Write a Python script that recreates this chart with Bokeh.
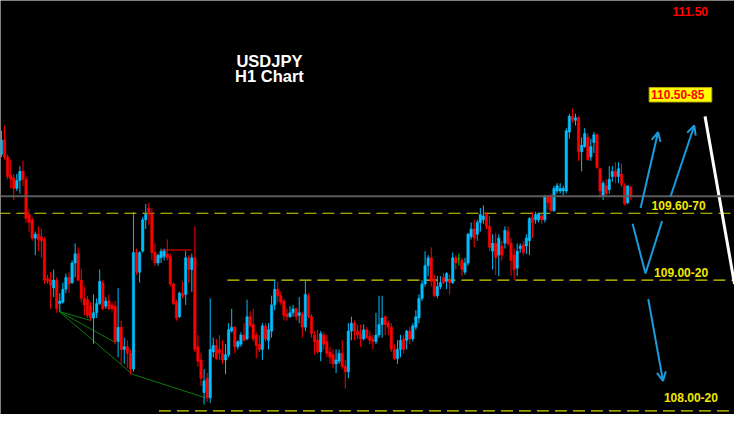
from bokeh.plotting import figure
from bokeh.models import Range1d, Span, Arrow, OpenHead
from bokeh.core.properties import value
from bokeh.embed import file_html
from bokeh.resources import INLINE

# ---------------- data (USDJPY, H1 candles) ----------------
opens = [110.05, 110.16, 110.03, 109.89, 109.87, 109.79, 109.85, 109.92, 109.86, 109.59,
         109.55, 109.41, 109.44, 109.42, 109.40, 109.10, 109.09, 109.03, 109.09, 108.91,
         108.92, 109.02, 109.11, 109.07, 109.22, 109.29, 109.09, 108.95, 108.94, 108.89,
         108.80, 108.84, 108.91, 109.07, 108.89, 108.93, 108.90, 108.89, 108.62, 108.73,
         108.56, 108.58, 108.53, 108.41, 109.30, 109.15, 109.31, 109.55, 109.64, 109.59,
         109.30, 109.22, 109.26, 109.27, 109.29, 109.27, 109.06, 108.92, 108.81, 108.99,
         108.98, 109.26, 109.17, 109.26, 108.58, 108.48, 108.23, 108.34, 108.19, 108.54,
         108.59, 108.56, 108.53, 108.48, 108.52, 108.70, 108.73, 108.58, 108.60, 108.67,
         108.64, 108.81, 108.75, 108.67, 108.60, 108.56, 108.74, 108.63, 108.70, 108.90,
         109.02, 108.97, 108.93, 108.83, 108.81, 108.84, 108.87, 108.82, 108.83, 108.73,
         108.97, 108.81, 108.67, 108.63, 108.54, 108.67, 108.62, 108.54, 108.52, 108.45,
         108.47, 108.53, 108.43, 108.39, 108.70, 108.76, 108.70, 108.68, 108.64, 108.71,
         108.66, 108.64, 108.62, 108.67, 108.75, 108.81, 108.76, 108.73, 108.56, 108.49,
         108.56, 108.64, 108.63, 108.70, 108.64, 108.73, 108.80, 108.95, 109.06, 109.20,
         109.26, 109.09, 108.97, 109.04, 109.11, 109.08, 109.09, 109.07, 109.26, 109.25,
         109.24, 109.15, 109.22, 109.42, 109.48, 109.44, 109.53, 109.55, 109.59, 109.50,
         109.31, 109.37, 109.28, 109.35, 109.37, 109.46, 109.37, 109.28, 109.18, 109.33,
         109.36, 109.35, 109.39, 109.57, 109.55, 109.55, 109.58, 109.55, 109.73, 109.72,
         109.62, 109.77, 109.77, 109.77, 109.77, 110.22, 110.34, 110.31, 110.33, 110.07,
         110.11, 110.18, 110.03, 110.14, 110.20, 109.94, 109.73, 109.81, 109.78, 109.88,
         109.92, 109.88, 109.90, 109.81, 109.68, 109.80]
highs = [110.23, 110.27, 110.05, 110.01, 109.90, 109.90, 109.96, 110.00, 109.88, 109.63,
         109.57, 109.46, 109.50, 109.48, 109.42, 109.13, 109.15, 109.17, 109.11, 108.99,
         109.07, 109.14, 109.15, 109.24, 109.37, 109.34, 109.17, 109.04, 108.97, 108.92,
         108.98, 108.95, 109.17, 109.09, 108.96, 108.98, 108.92, 108.93, 109.03, 108.78,
         108.65, 108.63, 108.56, 109.61, 109.33, 109.31, 109.57, 109.67, 109.68, 109.64,
         109.37, 109.29, 109.33, 109.33, 109.40, 109.29, 109.07, 108.94, 109.00, 109.08,
         109.31, 109.28, 109.29, 109.50, 108.67, 108.53, 108.41, 108.38, 108.95, 108.65,
         108.64, 108.67, 108.63, 108.60, 108.76, 108.87, 108.74, 108.63, 108.69, 108.76,
         108.94, 108.85, 108.87, 108.69, 108.67, 108.76, 108.76, 108.76, 108.97, 109.09,
         109.08, 109.00, 108.95, 108.87, 108.89, 108.90, 108.88, 108.96, 108.85, 109.09,
         108.99, 108.83, 108.70, 108.71, 108.70, 108.69, 108.67, 108.58, 108.56, 108.56,
         108.56, 108.63, 108.48, 108.76, 108.81, 108.78, 108.75, 108.75, 108.75, 108.73,
         108.70, 108.67, 108.84, 108.97, 108.97, 108.82, 108.78, 108.76, 108.60, 108.63,
         108.67, 108.67, 108.71, 108.73, 108.76, 108.86, 108.98, 109.09, 109.31, 109.28,
         109.34, 109.13, 109.12, 109.12, 109.14, 109.15, 109.13, 109.30, 109.28, 109.29,
         109.26, 109.26, 109.45, 109.53, 109.55, 109.55, 109.64, 109.66, 109.60, 109.58,
         109.44, 109.45, 109.44, 109.39, 109.50, 109.50, 109.41, 109.33, 109.37, 109.37,
         109.39, 109.44, 109.57, 109.61, 109.61, 109.60, 109.60, 109.74, 109.74, 109.75,
         109.81, 109.83, 109.83, 109.81, 110.25, 110.36, 110.40, 110.36, 110.34, 110.18,
         110.25, 110.21, 110.17, 110.22, 110.21, 109.95, 109.85, 109.86, 109.96, 109.96,
         109.99, 109.99, 109.98, 109.83, 109.81, 109.81]
lows = [110.03, 110.01, 109.86, 109.79, 109.70, 109.77, 109.75, 109.81, 109.53, 109.46,
        109.39, 109.28, 109.31, 109.26, 109.06, 109.06, 108.87, 108.96, 108.84, 108.85,
        108.91, 108.99, 108.99, 109.06, 109.11, 109.08, 108.92, 108.82, 108.80, 108.78,
        108.60, 108.80, 108.90, 108.86, 108.87, 108.86, 108.85, 108.60, 108.50, 108.45,
        108.45, 108.42, 108.37, 108.39, 109.13, 109.07, 109.30, 109.48, 109.51, 109.24,
        109.20, 109.20, 109.22, 109.24, 109.24, 109.04, 108.90, 108.78, 108.80, 108.95,
        108.90, 109.07, 109.00, 108.54, 108.43, 108.28, 108.14, 108.16, 108.15, 108.50,
        108.48, 108.48, 108.45, 108.37, 108.50, 108.69, 108.53, 108.56, 108.58, 108.62,
        108.63, 108.73, 108.62, 108.49, 108.54, 108.48, 108.62, 108.56, 108.65, 108.86,
        108.92, 108.90, 108.78, 108.78, 108.80, 108.81, 108.78, 108.76, 108.65, 108.70,
        108.80, 108.65, 108.52, 108.53, 108.47, 108.56, 108.50, 108.45, 108.42, 108.38,
        108.45, 108.41, 108.26, 108.34, 108.63, 108.63, 108.64, 108.58, 108.63, 108.64,
        108.60, 108.56, 108.60, 108.65, 108.65, 108.67, 108.67, 108.54, 108.48, 108.45,
        108.50, 108.53, 108.56, 108.60, 108.62, 108.71, 108.76, 108.93, 109.04, 109.12,
        109.04, 108.96, 108.95, 109.02, 109.06, 109.02, 108.98, 109.06, 109.17, 109.20,
        109.12, 109.13, 109.20, 109.40, 109.34, 109.39, 109.46, 109.52, 109.48, 109.31,
        109.17, 109.13, 109.12, 109.24, 109.33, 109.35, 109.12, 109.09, 109.12, 109.30,
        109.28, 109.29, 109.28, 109.41, 109.52, 109.53, 109.52, 109.53, 109.63, 109.61,
        109.61, 109.75, 109.75, 109.74, 109.75, 110.17, 110.29, 110.27, 110.00, 109.92,
        110.10, 110.00, 110.00, 110.06, 109.94, 109.72, 109.70, 109.73, 109.75, 109.84,
        109.83, 109.83, 109.80, 109.66, 109.67, 109.70]
closes = [110.16, 110.03, 109.88, 109.86, 109.79, 109.85, 109.92, 109.86, 109.56, 109.53,
          109.41, 109.44, 109.40, 109.39, 109.09, 109.08, 109.05, 109.09, 108.87, 108.93,
          109.02, 109.11, 109.06, 109.22, 109.29, 109.09, 108.95, 108.90, 108.82, 108.80,
          108.84, 108.91, 109.08, 108.87, 108.93, 108.87, 108.87, 108.62, 108.73, 108.56,
          108.58, 108.53, 108.41, 109.30, 109.15, 109.30, 109.55, 109.59, 109.59, 109.30,
          109.22, 109.28, 109.31, 109.31, 109.26, 109.06, 108.91, 108.80, 108.99, 108.97,
          109.26, 109.17, 109.26, 108.56, 108.47, 108.34, 108.32, 108.19, 108.56, 108.59,
          108.49, 108.53, 108.48, 108.52, 108.71, 108.73, 108.58, 108.62, 108.67, 108.63,
          108.81, 108.74, 108.64, 108.59, 108.56, 108.74, 108.64, 108.71, 108.90, 109.02,
          108.97, 108.92, 108.82, 108.81, 108.84, 108.87, 108.81, 108.84, 108.73, 108.98,
          108.81, 108.68, 108.62, 108.54, 108.68, 108.60, 108.53, 108.50, 108.45, 108.48,
          108.53, 108.43, 108.39, 108.70, 108.76, 108.70, 108.67, 108.64, 108.71, 108.65,
          108.63, 108.62, 108.67, 108.75, 108.80, 108.75, 108.73, 108.56, 108.49, 108.56,
          108.63, 108.56, 108.70, 108.64, 108.74, 108.81, 108.95, 109.06, 109.20, 109.26,
          109.08, 108.97, 109.04, 109.07, 109.07, 109.14, 109.07, 109.26, 109.22, 109.25,
          109.17, 109.22, 109.44, 109.48, 109.41, 109.53, 109.59, 109.58, 109.50, 109.34,
          109.37, 109.26, 109.41, 109.28, 109.47, 109.37, 109.24, 109.17, 109.31, 109.35,
          109.30, 109.41, 109.56, 109.53, 109.59, 109.60, 109.55, 109.73, 109.68, 109.62,
          109.79, 109.81, 109.79, 109.79, 110.23, 110.34, 110.31, 110.33, 110.07, 110.12,
          110.21, 110.01, 110.11, 110.20, 109.95, 109.77, 109.83, 109.75, 109.86, 109.92,
          109.88, 109.94, 109.82, 109.67, 109.81, 109.73]

# horizontal levels drawn on the chart
level_prices = [109.60, 109.09, 108.09]
level_start = [-1.0, 73.6, 51.3]          # candle index where each level begins
grey_level = 109.73
resistance = {"x0": 52.3, "x1": 61.8, "price": 109.32}

# green fan (anchor candle index, price)
fan_from = (18.8, 108.85)
fan_to = [(29.3, 108.78), (37.3, 108.61), (42.7, 108.37)]
fan_tail = [(42.7, 108.37), (66.5, 108.19)]

# zone labels
zone_texts = ["109.60-70", "109.00-20", "108.00-20"]
zone_x = [220.6, 221.4, 224.6]
zone_y = [109.659, 109.148, 108.192]

BULL = "#00bfff"
BEAR = "#ff0000"
DOJI = "#00e000"
ARROW = "#1b9bdc"
LEVEL = "#d6d600"

n = len(closes)
idx = list(range(n))
colors = [BULL if c > o else (BEAR if c < o else DOJI) for o, c in zip(opens, closes)]
tops = [max(o, c) for o, c in zip(opens, closes)]
bots = [min(o, c) for o, c in zip(opens, closes)]

p = figure(width=734, height=414, output_backend="svg", toolbar_location=None,
           x_range=Range1d(-0.32, 238.8), y_range=Range1d(108.063, 111.225),
           x_axis_location=None, y_axis_location=None, min_border=0,
           background_fill_color="#000000", border_fill_color="#000000")
p.grid.visible = False
p.outline_line_color = None

# levels
p.add_layout(Span(location=grey_level, dimension="width", line_color="#5c5c5c", line_width=2))
for lv, xs in zip(level_prices, level_start):
    p.segment(x0=[xs], y0=[lv], x1=[245], y1=[lv], line_color=LEVEL, line_width=1.2,
              line_dash="12 6")

p.segment(x0=[resistance["x0"]], y0=[resistance["price"]], x1=[resistance["x1"]],
          y1=[resistance["price"]], line_color="#b00000", line_width=1.5)

# green fan lines
for tx, ty in fan_to:
    p.line([fan_from[0], tx], [fan_from[1], ty], line_color="#0d7a0d", line_width=1)
p.line([a for a, b in fan_tail], [b for a, b in fan_tail], line_color="#0d7a0d", line_width=1)

# candles
p.segment(x0=idx, y0=lows, x1=idx, y1=highs, line_color=colors, line_width=1)
p.vbar(x=idx, width=0.8, top=tops, bottom=bots, fill_color=colors, line_color=colors,
       line_width=0.5)

# scenario arrows
p.add_layout(Arrow(end=OpenHead(size=9, line_color=ARROW, line_width=2),
                   x_start=208.2, y_start=109.64, x_end=213.9, y_end=110.22,
                   line_color=ARROW, line_width=2))
p.add_layout(Arrow(end=OpenHead(size=9, line_color=ARROW, line_width=2),
                   x_start=218.0, y_start=109.73, x_end=225.7, y_end=110.27,
                   line_color=ARROW, line_width=2))
p.line([205.6, 209.8, 215.2], [109.52, 109.14, 109.54], line_color=ARROW, line_width=2)
p.add_layout(Arrow(end=OpenHead(size=9, line_color=ARROW, line_width=2),
                   x_start=210.7, y_start=108.945, x_end=215.5, y_end=108.32,
                   line_color=ARROW, line_width=2))
p.line([229.2, 238.8], [110.34, 109.06], line_color="#ffffff", line_width=3)

# target box
p.quad(left=[211.0], right=[231.4], bottom=[110.45], top=[110.56],
       fill_color="#ffff00", line_color="#b8a800", line_width=1)

bold = dict(text_font=value("Liberation Sans"), text_font_style="bold",
            text_align="center", text_baseline="middle")
p.text(x=[87.3, 87.3], y=[110.765, 110.65], text=["USDJPY", "H1 Chart"],
       text_color="#ffffff", text_font_size="16.5px", **bold)
p.text(x=[224.4], y=[111.144], text=["111.50"], text_color="#ff0000",
       text_font_size="12px", **bold)
p.text(x=[220.3], y=[110.504], text=["110.50-85"], text_color="#ff0000",
       text_font_size="12px", **bold)
p.text(x=zone_x, y=zone_y, text=zone_texts, text_color="#f0e800",
       text_font_size="12px", **bold)

html = file_html(p, INLINE)
html = html.replace("<body>", '<body style="background-color:#000000;">', 1)
open("out.html", "w").write(html)
